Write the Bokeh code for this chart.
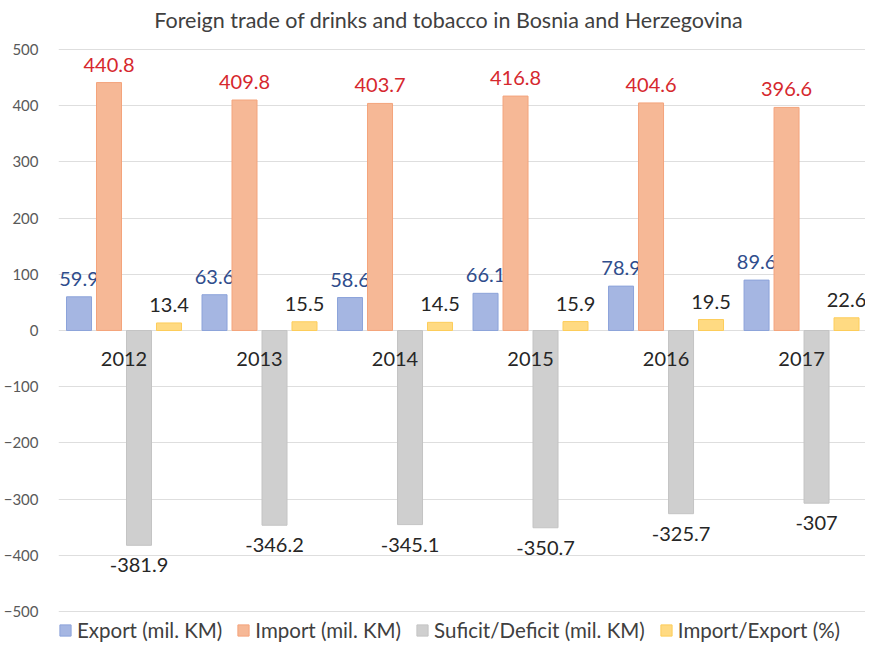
import numpy as np
from bokeh.plotting import figure
from bokeh.models import Range1d, FixedTicker, Legend, LegendItem, ColumnDataSource, Label
from bokeh.core.properties import value
from bokeh.embed import file_html
from bokeh.resources import INLINE

# ---- data ----
years = ["2012", "2013", "2014", "2015", "2016", "2017"]
export_vals = [59.9, 63.6, 58.6, 66.1, 78.9, 89.6]
import_vals = [440.8, 409.8, 403.7, 416.8, 404.6, 396.6]
balance_vals = [-381.9, -346.2, -345.1, -350.7, -325.7, -307]
ratio_vals = [13.4, 15.5, 14.5, 15.9, 19.5, 22.6]
series_names = ["Export (mil. KM)", "Import (mil. KM)", "Suficit/Deficit (mil. KM)", "Import/Export (%)"]
y_ticks = [-500, -400, -300, -200, -100, 0, 100, 200, 300, 400, 500]
title_text = "Foreign trade of drinks and tobacco in Bosnia and Herzegovina"

FONT = "Lato"
xs = np.arange(len(years))
offsets = [-0.332, -0.1107, 0.1107, 0.332]
bar_w = 0.1845

fills = ["#a5b6e2", "#f6b896", "#cfcfcf", "#ffda82"]
lines = ["#8ca3da", "#f4a47c", "#c4c4c4", "#fdcd5a"]
label_colors = ["#2f4d8c", "#d6282e", "#262626", "#262626"]
all_vals = [export_vals, import_vals, balance_vals, ratio_vals]

# frame covers the full canvas height; axis ticks only span -500..500
p = figure(width=865, height=642,
           x_range=Range1d(-0.4834, 5.472), y_range=Range1d(-554.7, 586.7),
           x_axis_type=None, output_backend="svg", toolbar_location=None,
           min_border_left=58, min_border_right=0, min_border_top=0, min_border_bottom=0)
p.outline_line_color = None
p.background_fill_color = "white"
p.border_fill_color = "white"

# y axis
p.yaxis.ticker = FixedTicker(ticks=y_ticks)
p.yaxis.axis_line_color = None
p.yaxis.major_tick_line_color = None
p.yaxis.minor_tick_line_color = None
p.yaxis.major_tick_in = 0
p.yaxis.major_tick_out = 0
p.yaxis.major_label_standoff = 20
p.yaxis.major_label_text_font = FONT
p.yaxis.major_label_text_font_size = "15px"
p.yaxis.major_label_text_color = "#595959"
p.ygrid.ticker = FixedTicker(ticks=y_ticks)
p.ygrid.grid_line_color = "#dedede"
p.ygrid.grid_line_width = 1

renderers = []
for i, vals in enumerate(all_vals):
    src = ColumnDataSource(dict(x=xs + offsets[i], top=vals,
                                lab=[f"{v:g}" for v in vals]))
    r = p.vbar(x="x", top="top", bottom=0, width=bar_w, source=src,
               fill_color=fills[i], line_color=lines[i], line_width=1)
    renderers.append(r)
    p.text(x="x", y="top", text="lab", source=src, text_align="center",
           text_baseline="middle", y_offset=(20 if i == 2 else -18),
           text_font=value(FONT), text_font_size="20px", text_color=label_colors[i])

# category labels at zero line
cat_src = ColumnDataSource(dict(x=xs, y=[0] * len(years), t=years))
p.text(x="x", y="y", text="t", source=cat_src, text_align="center",
       text_baseline="middle", y_offset=29, text_font=value(FONT),
       text_font_size="20px", text_color="#262626")

# title (placed in the top band of the frame)
p.add_layout(Label(x=2.396, y=552.9, text=title_text, text_align="center",
                   text_baseline="middle", text_font=FONT, text_font_size="21.5px",
                   text_color="#404040"))

legend = Legend(items=[LegendItem(label=series_names[i], renderers=[renderers[i]]) for i in range(4)],
                orientation="horizontal", location=(0, 0),
                glyph_width=14, glyph_height=14, label_standoff=5, spacing=14,
                padding=0, margin=0, border_line_color=None, background_fill_alpha=0,
                label_text_font=FONT, label_text_font_size="20.5px", label_text_color="#404040",
                label_height=20)
p.add_layout(legend)

open("out.html", "w").write(file_html(p, INLINE))
